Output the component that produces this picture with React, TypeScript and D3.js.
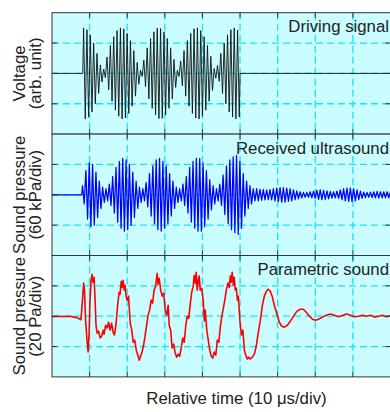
import React from "react";
import * as d3 from "d3";

// time axis in microseconds (10 us per division, 9 divisions visible)
const timeDomain = [0, 90];
const gridTimes = [10, 20, 30, 40, 50, 60, 70, 80];
const gridLevels = [-1, 0, 1];

// carrier period of the bursts (us)
const carrierPeriod = 0.89;

// driving signal: peak amplitude (div) of each carrier cycle
const driveStart = 8.18;
const driveAmp = [
  1.5, 1.44, 1.27, 1.0, 0.66, 0.28, 0.14, 0.54, 0.92, 1.21, 1.41, 1.5, 1.47, 1.32, 1.08, 0.75,
  0.36, 0.1, 0.44, 0.84, 1.15, 1.37, 1.49, 1.48, 1.37, 1.15, 0.84, 0.46, 0.1, 0.41, 0.75, 1.08,
  1.32, 1.47, 1.5, 1.41, 1.21, 0.92, 0.56, 0.16, 0.26, 0.66, 1.0, 1.27, 1.44, 1.5, 1.43,
];

// received ultrasound: peak amplitude (div) of each carrier cycle
const usStart = 7.9;
const usAmp = [
  0.3, 0.8, 1.05, 1.0, 0.75, 0.45, 0.25, 0.2, 0.35, 0.6, 0.9, 1.1, 1.2, 1.15, 1.0, 0.75,
  0.45, 0.25, 0.2, 0.4, 0.7, 0.95, 1.15, 1.2, 1.1, 0.95, 0.7, 0.45, 0.25, 0.2, 0.35, 0.6,
  0.9, 1.1, 1.2, 1.2, 1.05, 0.8, 0.5, 0.3, 0.2, 0.35, 0.65, 0.95, 1.15, 1.25, 1.3, 1.1,
  0.7, 0.45, 0.3, 0.2, 0.2, 0.18, 0.17, 0.16, 0.17, 0.2, 0.22, 0.24, 0.24, 0.22, 0.2, 0.16,
  0.13, 0.1, 0.08, 0.08, 0.1, 0.12, 0.15, 0.16, 0.15, 0.13, 0.11, 0.1, 0.12, 0.16, 0.2, 0.22,
  0.22, 0.2, 0.16, 0.12, 0.09, 0.08, 0.09, 0.1, 0.11, 0.1, 0.1, 0.1, 0.1,
];

// parametric (difference-frequency) sound
const paramT = [
  0, 1.6, 3.2, 4.8, 5.9, 6.9, 7.7, 8.1, 8.4, 8.65, 8.9, 9.3, 9.6, 9.85, 10.1, 10.4, 10.65, 10.9,
  11.2, 11.45, 11.7, 12.0, 12.4, 12.8, 13.2, 13.6, 13.85, 14.25, 14.65, 15.05, 15.45, 15.85, 16.25,
  16.6, 17.0, 17.45, 17.85, 18.1, 18.4, 18.65, 18.9, 19.2, 19.45, 19.7, 19.95, 20.35, 20.8, 21.2,
  21.6, 22.0, 22.4, 22.8, 23.2, 23.55, 23.95, 24.35, 24.75, 25.15, 25.55, 25.95, 26.35, 26.75,
  27.15, 27.55, 27.95, 28.2, 28.5, 28.9, 29.3, 29.7, 30.1, 30.5, 30.9, 31.15, 31.55, 31.95, 32.35,
  32.75, 33.15, 33.55, 33.95, 34.35, 34.75, 35.15, 35.55, 35.95, 36.35, 36.75, 37.15, 37.55, 37.8,
  38.1, 38.35, 38.6, 38.9, 39.15, 39.4, 39.8, 40.2, 40.5, 40.75, 41.15, 41.55, 41.95, 42.35, 42.75,
  43.15, 43.55, 43.95, 44.35, 44.75, 45.15, 45.55, 45.95, 46.35, 46.75, 47.15, 47.4, 47.65, 47.9,
  48.2, 48.45, 48.75, 49.0, 49.3, 49.55, 49.95, 50.35, 50.75, 51.15, 51.5, 51.9, 52.3, 52.7, 53.25,
  53.8, 54.3, 54.85, 55.4, 55.9, 56.45, 57.0, 57.5, 58.05, 58.6, 59.1, 59.8, 60.45, 61.1, 61.8,
  62.6, 63.4, 64.2, 65.1, 66.0, 66.85, 67.6, 68.45, 69.25, 70.05, 70.85, 71.9, 72.95, 74.0, 75.1,
  76.15, 77.2, 78.3, 79.35, 80.4, 81.5, 82.55, 83.6, 84.7, 85.75, 86.8, 87.9, 88.95, 90,
];
const paramV = [
  -0.02, 0, -0.01, 0, -0.03, -0.06, -0.12, 0.53, 1.09, 0.86, -0.07, -0.79, -1.18, -0.62, 0.53, 1.18,
  1.38, 1.12, 1.28, 0.53, -0.3, -0.56, -0.49, -0.72, -0.66, -0.46, -0.59, -0.3, -0.39, -0.2, -0.46,
  -0.23, -0.53, -0.62, -0.3, 0.36, 0.79, 0.72, 1.15, 0.95, 1.18, 0.86, 1.02, 0.66, 0.53, 0.66, -0.23,
  -0.46, -0.86, -0.79, -1.12, -1.28, -1.45, -1.32, -1.18, -0.95, -0.66, -0.3, 0.03, 0.2, 0.53, 0.43,
  0.86, 0.99, 1.41, 1.05, 1.25, 0.86, 0.66, 0.76, 0.2, 0.03, 0.36, -0.3, -0.46, -1.05, -0.92, -1.22,
  -1.35, -1.25, -1.32, -1.05, -0.72, -0.86, -0.33, 0, -0.07, 0.39, 0.79, 0.99, 1.35, 1.09, 1.45, 0.86,
  1.18, 1.32, 0.86, 0.92, 0.53, -0.16, 0.2, -0.46, -0.79, -1.12, -1.32, -1.38, -1.18, -1.28, -0.79,
  -0.86, -0.36, 0, 0.26, 0.53, 0.86, 1.09, 0.95, 1.32, 1.12, 1.45, 1.02, 1.28, 0.86, 0.92, 0.53,
  0.66, -0.13, -0.62, -0.46, -1.12, -1.28, -1.41, -1.35, -1.41, -1.35, -1.25, -0.99, -0.53, -0.13,
  0.33, 0.66, 0.82, 0.89, 0.82, 0.63, 0.36, 0.07, -0.2, -0.33, -0.36, -0.3, -0.16, 0, 0.16, 0.23,
  0.23, 0.13, 0, -0.1, -0.13, -0.1, -0.03, 0.03, 0.07, 0.03, -0.02, 0.02, 0.07, 0.03, -0.02, 0, 0.03,
  0, 0.03, -0.03, 0, 0.03, -0.02, 0.02,
];

const panelLabels = [
  ["Voltage", "(arb. unit)"],
  ["Sound pressure", "(60 kPa/div)"],
  ["Sound pressure", "(20 Pa/div)"],
];
const panelTitles = ["Driving signal", "Received ultrasound", "Parametric sound"];
const traceColors = ["#111111", "#0000ff", "#ff0000"];
const traceWidths = [0.9, 1.25, 1.6];

// one vertex at every carrier half cycle, alternating sign
function burst(start: number, amps: number[], tail: boolean): [number, number][] {
  const pts: [number, number][] = [[0, 0], [start, 0]];
  amps.forEach((a, i) => {
    pts.push([start + (i + 0.25) * carrierPeriod, a]);
    pts.push([start + (i + 0.75) * carrierPeriod, -a]);
  });
  const end = start + amps.length * carrierPeriod;
  pts.push([Math.min(end, 90), 0]);
  if (tail) pts.push([90, 0]);
  return pts;
}

const App = () => {
  const width = 390;
  const height = 412;
  const left = 52;
  const right = 390.5;
  const tops = [12.7, 134.1, 255.5];
  const ph = 121.4;

  const x = d3.scaleLinear().domain(timeDomain).range([left, right]);

  const series: [number, number][][] = [
    burst(driveStart, driveAmp, true),
    burst(usStart, usAmp, false),
    paramT.map((t, i) => [t, paramV[i]] as [number, number]),
  ];

  const font = "'Liberation Sans', Arial, sans-serif";

  return (
    <svg
      width={width}
      height={height}
      style={{ position: "absolute", left: 0, top: 0 }}
      fontFamily={font}
    >
      <rect x={0} y={0} width={width} height={height} fill="#ffffff" />
      {tops.map((top, p) => {
        const y = d3.scaleLinear().domain([-2, 2]).range([top + ph, top]);
        const line = d3
          .line<[number, number]>()
          .x((d) => x(d[0]))
          .y((d) => y(d[1]));
        const cy = y(0);
        return (
          <g key={p}>
            <rect x={left} y={top} width={right - left} height={ph} fill="#c9fdff" />
            {gridTimes.map((t) => (
              <line
                key={"v" + t}
                x1={x(t)}
                x2={x(t)}
                y1={top}
                y2={top + ph}
                stroke="#18e4f6"
                strokeWidth={1.3}
                strokeDasharray="7,4"
              />
            ))}
            {gridLevels.map((v) => (
              <line
                key={"h" + v}
                x1={left}
                x2={right}
                y1={y(v)}
                y2={y(v)}
                stroke="#18e4f6"
                strokeWidth={1.3}
                strokeDasharray="7,4"
              />
            ))}
            <path
              d={line(series[p]) || ""}
              fill="none"
              stroke={traceColors[p]}
              strokeWidth={traceWidths[p]}
              strokeLinejoin="round"
            />
            {/* ticks on all four sides */}
            {gridTimes.map((t) => (
              <g key={"t" + t} stroke="#333" strokeWidth={1}>
                <line x1={x(t)} x2={x(t)} y1={top} y2={top + 5} />
                <line x1={x(t)} x2={x(t)} y1={top + ph} y2={top + ph - 5} />
              </g>
            ))}
            {gridLevels.map((v) => (
              <g key={"s" + v} stroke="#333" strokeWidth={1}>
                <line x1={left} x2={left + 5} y1={y(v)} y2={y(v)} />
                <line x1={right} x2={right - 5} y1={y(v)} y2={y(v)} />
              </g>
            ))}
            <rect
              x={left}
              y={top}
              width={right - left}
              height={ph}
              fill="none"
              stroke="#333"
              strokeWidth={1}
            />
            <text
              x={389}
              y={top + 19.5}
              textAnchor="end"
              fontSize={16.8}
              fill="#222"
            >
              {panelTitles[p]}
            </text>
            <text
              transform={`translate(25,${cy}) rotate(-90)`}
              textAnchor="middle"
              fontSize={16.8}
              fill="#222"
            >
              {panelLabels[p][0]}
            </text>
            <text
              transform={`translate(41,${cy}) rotate(-90)`}
              textAnchor="middle"
              fontSize={16.8}
              fill="#222"
            >
              {panelLabels[p][1]}
            </text>
          </g>
        );
      })}
      <text x={236.5} y={404} textAnchor="middle" fontSize={16.8} fill="#222">
        Relative time (10 μs/div)
      </text>
    </svg>
  );
};

export default App;
